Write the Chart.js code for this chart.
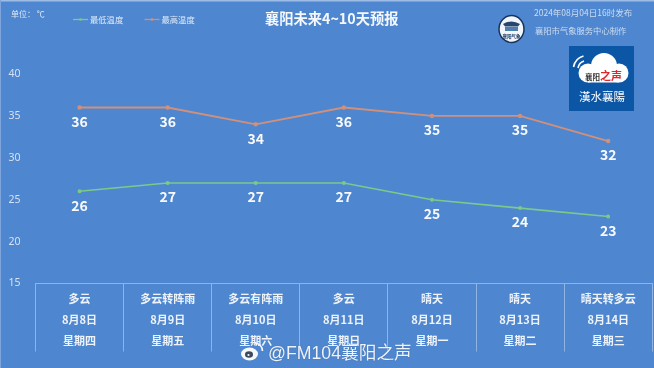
<!DOCTYPE html>
<html><head><meta charset="utf-8">
<style>
html,body{margin:0;padding:0;background:#4e87cf;overflow:hidden}
#wrap{position:relative;width:654px;height:368px;overflow:hidden;font-family:"Noto Sans CJK SC","Noto Sans",sans-serif}
canvas{position:absolute;left:0;top:0}
.t{position:absolute;white-space:nowrap}
</style>
<script src="https://cdn.jsdelivr.net/npm/chart.js@4/dist/chart.umd.min.js"></script>
</head><body><div id="wrap">
<canvas id="c" width="658" height="368"></canvas>
<svg style="position:absolute;left:0;top:0" width="654" height="368">
  <rect x="0" y="0" width="654" height="1.500" fill="#9dbce6"/>
  <rect x="0" y="0" width="1" height="368" fill="#7ea6dc"/>
  <ellipse cx="511.500" cy="29" rx="12.500" ry="13.500" fill="#f2f6fb" stroke="#17345f" stroke-width="1.500"/>
  <path d="M503 24 q8.500 -5 17 0 l-2 2.500 h-13z" fill="#24466f"/>
  <rect x="505" y="27" width="13" height="4" fill="#4f7fae"/>
  <text x="511.500" y="38" text-anchor="middle" font-size="4.500" font-weight="700" fill="#17345f" font-family="Noto Sans CJK SC">襄阳气象</text>
  <rect x="569" y="46" width="65" height="65" fill="#0c56a6"/>
  <g fill="#fff">
    <circle cx="604" cy="66" r="13"/>
    <circle cx="588" cy="73" r="9.500"/>
    <circle cx="619" cy="73" r="9.500"/>
    <rect x="588" y="70" width="31" height="12.500"/>
  </g>
  <path d="M573.500 67 a14 14 0 0 1 10 -11 M578 68 a9 9 0 0 1 6 -7" fill="none" stroke="#fff" stroke-width="1.600"/>
  <text x="585" y="79.500" font-size="7.500" font-weight="700" fill="#333" font-family="Noto Sans CJK SC">襄阳</text>
  <text x="600" y="80" font-size="11" font-weight="700" fill="#e0282a" font-family="Noto Sans CJK SC">之声</text>
  <text x="602" y="101" text-anchor="middle" font-size="11.500" fill="#fff" font-family="Noto Sans CJK TC">漢水襄陽</text>
  <ellipse cx="249.500" cy="354" rx="8.500" ry="6.500" fill="#f6f8fc"/>
  <ellipse cx="249" cy="354.500" rx="4" ry="3.300" fill="#3c4a5e"/>
  <circle cx="248.500" cy="355" r="1.100" fill="#f6f8fc"/>
  <path d="M255 343 a8 8 0 0 1 7.500 8" fill="none" stroke="#f6f8fc" stroke-width="1.600"/>
</svg>
<div class="t" style="left:268px;top:341px;font-size:17.700px;line-height:24px;color:#f0f3f9;font-family:'Liberation Sans','Noto Sans CJK SC',sans-serif;text-shadow:0 0 1px #3a5f95">@FM104襄阳之声</div>
<div class="t" style="left:265px;top:9px;font-size:14.250px;line-height:18px;font-weight:700;color:#f4f7fb">襄阳未来4~10天预报</div>
<div class="t" style="left:11px;top:8px;font-size:8px;line-height:12px;color:#dfe8f5">单位： ℃</div>
<div class="t" style="left:534px;top:6px;font-size:8.500px;line-height:12px;color:#cfdcf0">2024年08月04日16时发布</div>
<div class="t" style="left:535px;top:24px;font-size:8.300px;line-height:12px;color:#cfdcf0">襄阳市气象服务中心制作</div>
</div>
<script>
const categories = [
  ["多云","8月8日","星期四"],
  ["多云转阵雨","8月9日","星期五"],
  ["多云有阵雨","8月10日","星期六"],
  ["多云","8月11日","星期日"],
  ["晴天","8月12日","星期一"],
  ["晴天","8月13日","星期二"],
  ["晴天转多云","8月14日","星期三"]
];
const lowTemps = [26,27,27,27,25,24,23];
const highTemps = [36,36,34,36,35,35,32];
const yTicks = [15,20,25,30,35,40];
const lowName = "最低温度";
const highName = "最高温度";

const FONT = '"Noto Sans CJK SC","Noto Sans",sans-serif';
const valueLabels = {
  id:'valueLabels',
  afterDatasetsDraw(chart){
    const ctx = chart.ctx;
    ctx.save();
    ctx.font = '700 14px '+FONT;
    ctx.fillStyle = '#f7f9fc';
    ctx.textAlign = 'center';
    ctx.textBaseline = 'middle';
    chart.data.datasets.forEach((d,i)=>{
      chart.getDatasetMeta(i).data.forEach((p,j)=>{
        ctx.fillText(d.data[j], p.x, p.y+14);
      });
    });
    ctx.restore();
  }
};
const legendDraw = {
  id:'legendDraw',
  afterDraw(chart){
    const ctx = chart.ctx, xs=[73,144.500];
    ctx.save();
    ctx.font = '8.300px '+FONT;
    ctx.textBaseline='middle';
    chart.data.datasets.forEach((d,i)=>{
      const x=xs[i], y=19.500;
      ctx.strokeStyle=d.borderColor; ctx.lineWidth=1.300;
      ctx.beginPath(); ctx.moveTo(x,y); ctx.lineTo(x+15,y); ctx.stroke();
      ctx.fillStyle=d.borderColor;
      ctx.beginPath(); ctx.arc(x+7.500,y,1.300,0,Math.PI*2); ctx.fill();
      ctx.fillStyle='#e4ecf7';
      ctx.fillText(d.label,x+17,y);
    });
    ctx.restore();
  }
};
new Chart(document.getElementById('c'),{
  type:'line',
  data:{labels:categories,datasets:[
    {label:lowName,data:lowTemps,borderColor:'#7cc98c',backgroundColor:'#7cc98c',borderWidth:1.600,pointRadius:1.200,tension:0},
    {label:highName,data:highTemps,borderColor:'#d0907c',backgroundColor:'#d0907c',borderWidth:1.800,pointRadius:1.300,tension:0}
  ]},
  options:{
    responsive:false,animation:false,
    layout:{padding:{top:74,right:0,left:0,bottom:0}},
    plugins:{legend:{display:false},tooltip:{enabled:false},title:{display:false}},
    scales:{
      x:{
        offset:true,
        afterFit(s){s.height=84.500;s.paddingLeft=0;s.paddingRight=0;},
        grid:{drawOnChartArea:false,drawTicks:true,tickLength:68,color:'#8fb3e2',offset:true,lineWidth:1},
        border:{display:true,color:'#8fb3e2',width:1},
        ticks:{maxRotation:0,autoSkip:false,padding:-63,color:'#eef3fa',font:{family:FONT,size:11,weight:'700',lineHeight:1.900}}
      },
      y:{
        min:15,max:40,
        afterFit(s){s.width=35.500;s.paddingTop=0;s.paddingBottom=0;},
        afterBuildTicks(s){s.ticks=yTicks.map(v=>({value:v}));},
        grid:{display:false},
        border:{display:false},
        ticks:{color:'#d5e1f2',padding:7,font:{family:'"Noto Sans",sans-serif',size:10.500}}
      }
    }
  },
  plugins:[valueLabels,legendDraw]
});
</script></body></html>
